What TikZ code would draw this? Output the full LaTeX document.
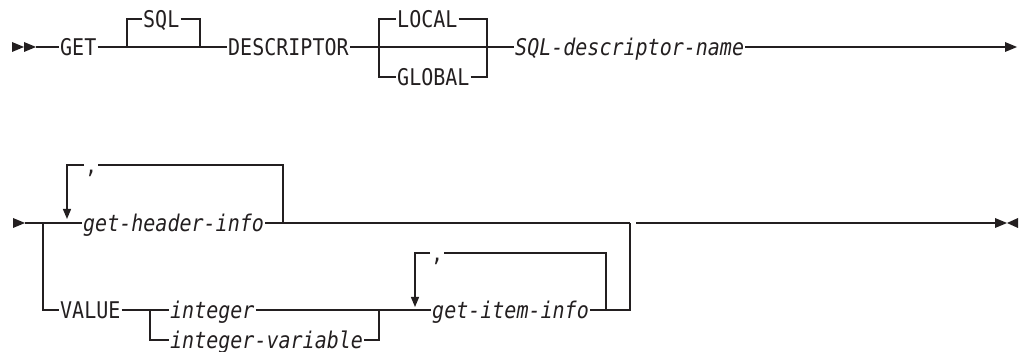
\documentclass[tikz,border=0pt]{standalone}
\usepackage{fontspec}
\usetikzlibrary{arrows.meta}
\newfontfamily\diafont{DejaVu Sans Mono}[FakeStretch=0.87]
\definecolor{ink}{RGB}{35,31,32}
\begin{document}
\begin{tikzpicture}[x=1pt,y=-1pt,
  txt/.style={anchor=west,inner xsep=1pt,inner ysep=0pt,text height=16.8pt,text depth=0pt,
    text=ink,font=\diafont\fontsize{23}{23}\selectfont},
  ln/.style={draw=ink,line width=1.3pt},
  tip/.style={-{Triangle[width=8pt,length=10pt]}}]
\useasboundingbox (0,0) rectangle (1022,352);
% ---------- row 1 ----------
\fill[ink] (12,42) -- (24,47) -- (12,52) -- cycle;
\fill[ink] (24,42) -- (36,47) -- (24,52) -- cycle;
\coordinate (s1) at (36,47);
\node[txt] (get) at (59,47) {GET};
\coordinate (j1a) at (127,47);
\coordinate (j1b) at (200,47);
\node[txt] (sql) at (142,19) {SQL};
\node[txt] (desc) at (227,47) {DESCRIPTOR};
\coordinate (j2a) at (379,47);
\coordinate (j2b) at (487,47);
\node[txt] (local) at (396,19) {LOCAL};
\node[txt] (global) at (396,77) {GLOBAL};
\node[txt] (sdn) at (514,47) {\itshape SQL-descriptor-name};
\coordinate (e1) at (1005,47);
\fill[ink] (1005,42) -- (1017,47) -- (1005,52) -- cycle;
\draw[ln] (s1) -- (get);
\draw[ln] (get) -- (desc);
\draw[ln] (j1a) |- (sql);
\draw[ln] (sql) -| (j1b);
\draw[ln] (desc) -- (sdn);
\draw[ln] (j2a) |- (local);
\draw[ln] (local) -| (j2b);
\draw[ln] (j2a) |- (global);
\draw[ln] (global) -| (j2b);
\draw[ln] (sdn) -- (e1);
% ---------- row 2 ----------
\fill[ink] (13,218) -- (25,223) -- (13,228) -- cycle;
\coordinate (s2) at (25,223);
\coordinate (v1) at (43,223);
\node[txt] (ghi) at (82,223) {\itshape get-header-info};
\coordinate (l1r) at (283,223);
\node[txt] (c1) at (84,165) {,};
\coordinate (l1a) at (67,219);
\coordinate (m1) at (630,223);
\coordinate (m2) at (636,223);
\coordinate (e2) at (995,223);
\draw[ln] (s2) -- (ghi);
\draw[ln] (ghi) -- (m1);
\draw[ln] (l1r) |- (c1);
\draw[ln,tip] (c1) -| (l1a);
\draw[ln] (m2) -- (e2);
\fill[ink] (995,218) -- (1007,223) -- (995,228) -- cycle;
\fill[ink] (1018,218) -- (1007,223) -- (1018,228) -- cycle;
% ---------- VALUE row ----------
\node[txt] (val) at (59,310) {VALUE};
\coordinate (j3a) at (150,310);
\coordinate (j3b) at (379,310);
\node[txt] (int) at (169,310) {\itshape integer};
\node[txt] (intv) at (169,340) {\itshape integer-variable};
\node[txt] (gii) at (431,310) {\itshape get-item-info};
\coordinate (m3) at (630,310);
\coordinate (l2r) at (606,310);
\node[txt] (c2) at (430,253) {,};
\coordinate (l2a) at (415,307);
\draw[ln] (v1) |- (val);
\draw[ln] (val) -- (int);
\draw[ln] (j3a) |- (intv);
\draw[ln] (int) -- (gii);
\draw[ln] (intv) -| (j3b);
\draw[ln] (gii) -- (m3) -- (m1);
\draw[ln] (l2r) |- (c2);
\draw[ln,tip] (c2) -| (l2a);
\end{tikzpicture}
\end{document}
